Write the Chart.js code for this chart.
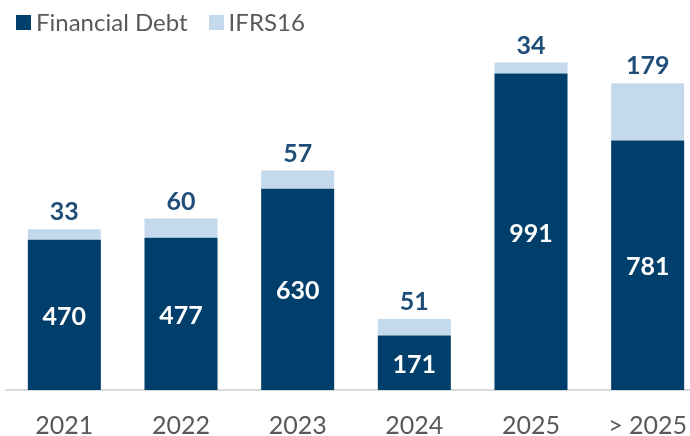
<!DOCTYPE html>
<html>
<head>
<meta charset="utf-8">
<script src="https://cdn.jsdelivr.net/npm/chart.js@4"></script>
<style>
  html, body { margin: 0; padding: 0; background: #fff; overflow: hidden; }
  #wrap { position: relative; width: 706px; height: 454px; }
  #legend {
    position: absolute; left: 16px; top: 7px;
    display: flex; align-items: center;
    font-family: Lato, "Open Sans", sans-serif; font-size: 24px; color: #595959;
    line-height: 30px;
  }
  #legend .item { display: flex; align-items: center; margin-right: 21px; }
  #legend .box { width: 15px; height: 15px; margin-right: 5px; }
</style>
</head>
<body>
<div id="wrap">
  <div id="legend"></div>
  <canvas id="myChart" width="706" height="454"></canvas>
</div>
<script>
const years = ['2021', '2022', '2023', '2024', '2025', '> 2025']
const financialDebt = [470, 477, 630, 171, 991, 781]
const ifrs16 = [33, 60, 57, 51, 34, 179]

const navy = '#003F6B'
const lightBlue = '#C5D9ED'
const labelBlue = '#1F4E79'
const greyText = '#595959'
const fontFamily = 'Lato, "Open Sans", sans-serif'

// value labels: white inside dark bars, blue above the stack
const valueLabels = {
  id: 'valueLabels',
  afterDatasetsDraw(chart) {
    const ctx = chart.ctx
    ctx.save()
    ctx.textAlign = 'center'
    ctx.textBaseline = 'middle'
    ctx.font = 'bold 25px ' + fontFamily
    const debtMeta = chart.getDatasetMeta(0)
    const ifrsMeta = chart.getDatasetMeta(1)
    debtMeta.data.forEach((bar, i) => {
      ctx.fillStyle = '#ffffff'
      ctx.fillText(financialDebt[i], bar.x, (bar.y + bar.base) / 2 + 2)
    })
    ifrsMeta.data.forEach((bar, i) => {
      ctx.fillStyle = labelBlue
      ctx.fillText(ifrs16[i], bar.x, bar.y - 17)
    })
    ctx.restore()
  }
}

const config = {
  type: 'bar',
  data: {
    labels: years,
    datasets: [{
      label: 'Financial Debt',
      data: financialDebt,
      backgroundColor: navy,
      categoryPercentage: 1,
      barPercentage: 0.626
    }, {
      label: 'IFRS16',
      data: ifrs16,
      backgroundColor: lightBlue,
      categoryPercentage: 1,
      barPercentage: 0.626
    }]
  },
  options: {
    responsive: false,
    animation: false,
    layout: { padding: { left: 6, right: 0, top: 45, bottom: 0 } },
    plugins: {
      tooltip: { enabled: false },
      legend: { display: false }
    },
    scales: {
      x: {
        stacked: true,
        grid: { display: false, drawBorder: false },
        border: { color: '#D9D9D9', width: 2 },
        ticks: {
          color: greyText,
          padding: 13,
          font: { family: fontFamily, size: 25 }
        }
      },
      y: {
        stacked: true,
        min: 0,
        max: 1080,
        display: false
      }
    }
  },
  plugins: [valueLabels]
}

const myChart = new Chart(document.getElementById('myChart'), config)

// legend as html, built from the datasets
const legendEl = document.getElementById('legend')
myChart.data.datasets.forEach(ds => {
  const item = document.createElement('div')
  item.className = 'item'
  const box = document.createElement('span')
  box.className = 'box'
  box.style.background = ds.backgroundColor
  const txt = document.createElement('span')
  txt.textContent = ds.label
  item.appendChild(box)
  item.appendChild(txt)
  legendEl.appendChild(item)
})
</script>
</body>
</html>
